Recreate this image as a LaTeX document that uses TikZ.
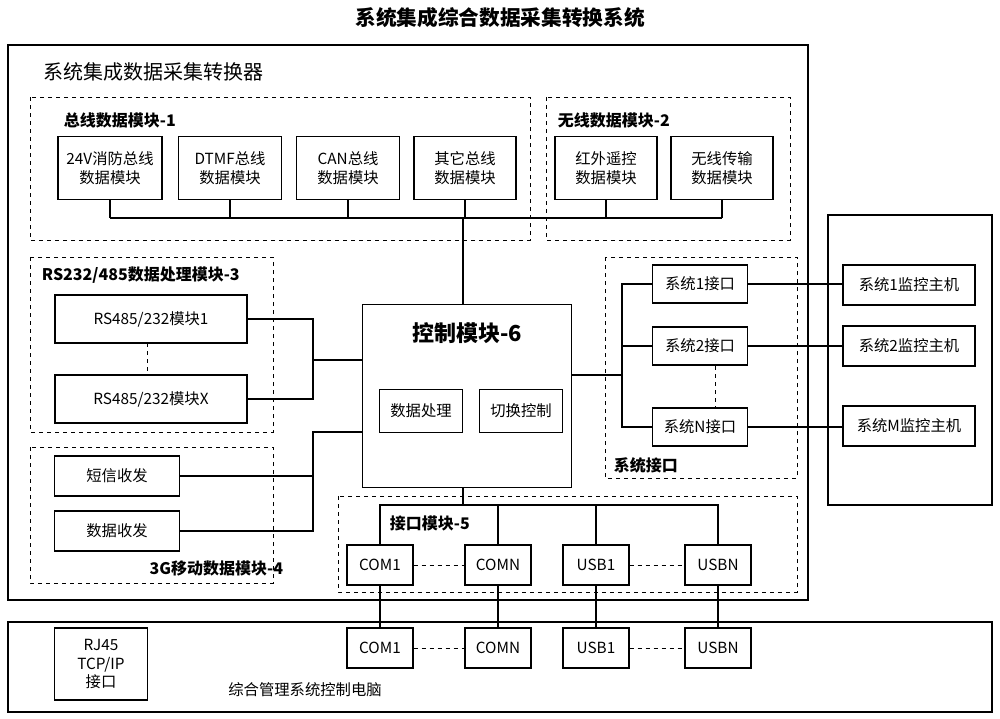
\documentclass[tikz,border=0pt]{standalone}
\usepackage{fontspec}
\setmainfont{Noto Sans CJK SC}
\begin{document}
\begin{tikzpicture}[x=0.75pt,y=-0.75pt,line width=0.9pt,
  bx/.style={draw,fill=white,inner sep=0,align=center,font=\fontsize{11.5}{14}\selectfont},
  grp/.style={draw,dashed,line width=0.7pt},
  lbl/.style={font=\fontsize{12}{14}\selectfont\bfseries,anchor=west,inner sep=1pt},
  dl/.style={dashed,line width=0.7pt}]
\useasboundingbox (0,0) rectangle (1000,718);
\node (title) at (500,18) {\fontsize{15.5}{17}\selectfont\bfseries 系统集成综合数据采集转换系统};
\draw (8,45) rectangle (808,600);
\node[anchor=west,font=\fontsize{15}{16}\selectfont] (conv) at (38,72) {系统集成数据采集转换器};
% bus group
\draw[grp] (30,97) rectangle (530,240);
\node[lbl] (bl) at (62,120) {总线数据模块-1};
\draw[grp] (546,97) rectangle (790,240);
\node[lbl] (wl) at (556,120) {无线数据模块-2};
\node[bx,minimum width=104*0.75pt,minimum height=63*0.75pt] (b1) at (110,168) {24V消防总线\\数据模块};
\node[bx,minimum width=103*0.75pt,minimum height=63*0.75pt] (b2) at (230,168) {DTMF总线\\数据模块};
\node[bx,minimum width=103*0.75pt,minimum height=63*0.75pt] (b3) at (348,168) {CAN总线\\数据模块};
\node[bx,minimum width=102*0.75pt,minimum height=63*0.75pt] (b4) at (465,168) {其它总线\\数据模块};
\node[bx,minimum width=102*0.75pt,minimum height=63*0.75pt] (w1) at (606,168) {红外遥控\\数据模块};
\node[bx,minimum width=102*0.75pt,minimum height=63*0.75pt] (w2) at (722,168) {无线传输\\数据模块};
\coordinate (busL) at (110,218); \coordinate (busR) at (722,218);
\draw (busL) -- (busR);
\foreach \n in {b1,b2,b3,b4,w1,w2} \draw (\n.south) -- (\n.south |- busL);
% control
\node[bx,minimum width=209*0.75pt,minimum height=183*0.75pt] (ctl) at (467,396) {};
\node[font=\fontsize{16.5}{18}\selectfont\bfseries] (ctlt) at (467,333) {控制模块-6};
\node[bx,minimum width=83*0.75pt,minimum height=43*0.75pt] (dp) at (421,411) {数据处理};
\node[bx,minimum width=83*0.75pt,minimum height=43*0.75pt] (sw) at (521,411) {切换控制};
\draw (463,218) -- (ctl.north -| 463,0);
% RS group
\draw[grp] (30,257) rectangle (273,432);
\node[lbl] (rl) at (40,275) {RS232/485数据处理模块-3};
\node[bx,minimum width=192*0.75pt,minimum height=48*0.75pt] (r1) at (151,319) {RS485/232模块1};
\node[bx,minimum width=192*0.75pt,minimum height=48*0.75pt] (rx) at (151,399) {RS485/232模块X};
\draw[dl] (147,343) -- (147,375);
\coordinate (rj) at (313,360);
\draw (r1.east) -| (rj) |- (rx.east);
\draw (rj) -- (rj -| ctl.west);
% 3G group
\draw[grp] (30,447) rectangle (273,583);
\node[lbl,anchor=east] (gl) at (285,568) {3G移动数据模块-4};
\node[bx,minimum width=125*0.75pt,minimum height=40*0.75pt] (g1) at (117,476) {短信收发};
\node[bx,minimum width=125*0.75pt,minimum height=40*0.75pt] (g2) at (117,531) {数据收发};
\coordinate (gj) at (313,432);
\draw (ctl.west |- gj) -- (gj) |- (g2.east);
\draw (g1.east) -- (g1.east -| gj);
% interface group
\draw[grp] (338,496) rectangle (797,592);
\node[bx,minimum width=66*0.75pt,minimum height=40*0.75pt] (c1) at (380,565) {COM1};
\node[bx,minimum width=66*0.75pt,minimum height=40*0.75pt] (cn) at (498,565) {COMN};
\node[bx,minimum width=66*0.75pt,minimum height=40*0.75pt] (u1) at (596,565) {USB1};
\node[bx,minimum width=66*0.75pt,minimum height=40*0.75pt] (un) at (718,565) {USBN};
\coordinate (il) at (380,505);
\draw (c1.north) -- (il) -- (il -| un.north) -- (un.north);
\draw (cn.north) -- (cn.north |- il);
\draw (u1.north) -- (u1.north |- il);
\draw (ctl.south -| 463,0) -- (463,505);
\node[lbl] (il5) at (388,523) {接口模块-5};
\draw[dl] (c1.east) -- (cn.west);
\draw[dl] (u1.east) -- (un.west);
% system interface
\draw[grp] (605,257) rectangle (797,478);
\node[lbl] (sl) at (612,465) {系统接口};
\node[bx,minimum width=95*0.75pt,minimum height=38*0.75pt] (s1) at (700,284) {系统1接口};
\node[bx,minimum width=95*0.75pt,minimum height=38*0.75pt] (s2) at (700,346) {系统2接口};
\node[bx,minimum width=95*0.75pt,minimum height=38*0.75pt] (sn) at (700,427) {系统N接口};
\coordinate (sj) at (622,375);
\draw (s1.west) -- (622,284) -- (622,427) -- (sn.west);
\draw (s2.west) -- (622,346);
\draw (ctl.east |- sj) -- (sj);
\draw[dl] (715,366) -- (715,408);
% hosts
\draw (828,215) rectangle (992,505);
\node[bx,minimum width=132*0.75pt,minimum height=40*0.75pt] (h1) at (909,285) {系统1监控主机};
\node[bx,minimum width=132*0.75pt,minimum height=40*0.75pt] (h2) at (909,346) {系统2监控主机};
\node[bx,minimum width=132*0.75pt,minimum height=40*0.75pt] (hm) at (909,426) {系统M监控主机};
\draw (s1.east) -- (s1.east -| h1.west);
\draw (s2.east) -- (s2.east -| h2.west);
\draw (sn.east) -- (sn.east -| hm.west);
% bottom
\draw (8,622) rectangle (992,712);
\node[bx,minimum width=93*0.75pt,minimum height=72*0.75pt] (rj45) at (101,664) {RJ45\\TCP/IP\\接口};
\node[bx,minimum width=66*0.75pt,minimum height=40*0.75pt] (pc1) at (380,648) {COM1};
\node[bx,minimum width=66*0.75pt,minimum height=40*0.75pt] (pcn) at (498,648) {COMN};
\node[bx,minimum width=66*0.75pt,minimum height=40*0.75pt] (pu1) at (596,648) {USB1};
\node[bx,minimum width=66*0.75pt,minimum height=40*0.75pt] (pun) at (718,648) {USBN};
\draw[dl] (pc1.east) -- (pcn.west);
\draw[dl] (pu1.east) -- (pun.west);
\draw (c1.south) -- (pc1.north);
\draw (cn.south) -- (pcn.north);
\draw (u1.south) -- (pu1.north);
\draw (un.south) -- (pun.north);
\node[font=\fontsize{11.5}{13}\selectfont] (pcl) at (305,690) {综合管理系统控制电脑};
\end{tikzpicture}
\end{document}
